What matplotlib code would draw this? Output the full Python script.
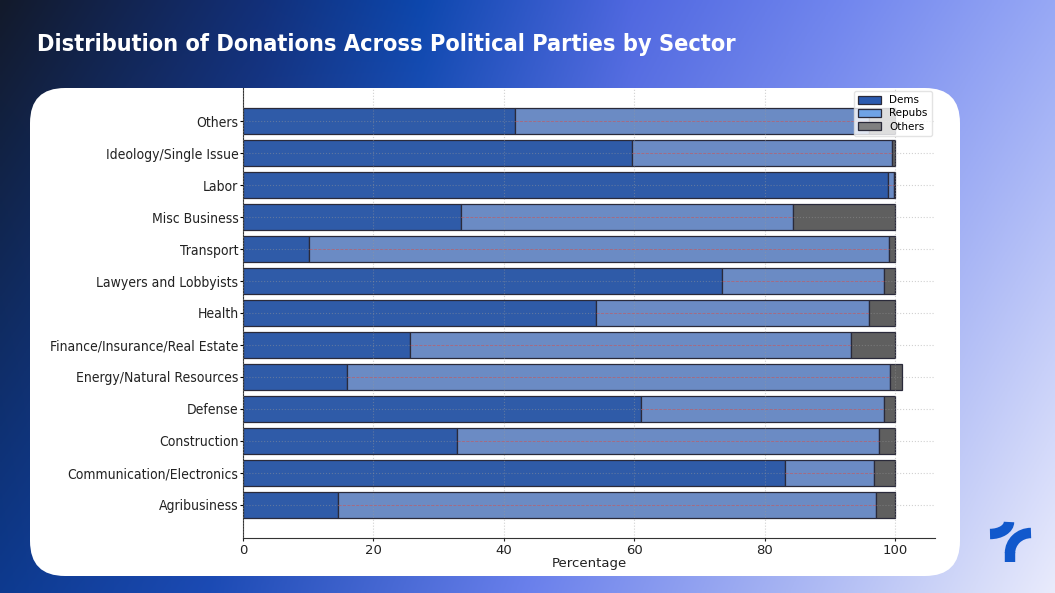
import numpy as np
import matplotlib
matplotlib.use("Agg")
import matplotlib.pyplot as plt
from matplotlib.patches import FancyBboxPatch, Arc
from matplotlib.colors import to_rgb

# ---------------- data ----------------
sectors = ["Agribusiness", "Communication/Electronics", "Construction", "Defense",
           "Energy/Natural Resources", "Finance/Insurance/Real Estate", "Health",
           "Lawyers and Lobbyists", "Transport", "Misc Business", "Labor",
           "Ideology/Single Issue", "Others"]
dems = [14.5, 83.2, 32.8, 61.0, 15.9, 25.6, 54.1, 73.5, 10.1, 33.5, 98.9, 59.7, 41.7]
repubs = [82.6, 13.6, 64.7, 37.3, 83.3, 67.7, 41.9, 24.8, 89.0, 50.9, 0.9, 39.8, 54.3]
others = [2.9, 3.2, 2.5, 1.7, 1.9, 6.7, 4.0, 1.7, 0.9, 15.6, 0.2, 0.5, 4.0]
x_ticks = [0, 20, 40, 60, 80, 100]

title = "Distribution of Donations Across Political Parties by Sector"

W, H = 1055, 593
fig = plt.figure(figsize=(W / 100, H / 100), dpi=100)

# ---------------- background gradient ----------------
bg = fig.add_axes([0, 0, 1, 1], zorder=-10)
bg.set_axis_off()
top_stops = [(0.0, "#131a2b"), (0.25, "#12307a"), (0.4, "#0d47ad"), (0.6, "#5068e0"),
             (0.8, "#7186ee"), (1.0, "#97a8f5")]
bot_stops = [(0.0, "#0d3a8f"), (0.2, "#1c4bb5"), (0.5, "#6a80ec"), (0.75, "#a8b5f3"),
             (0.9, "#cfd6f8"), (1.0, "#e9ebfc")]
xs = np.linspace(0, 1, 400)

def row(stops):
    pos = [s[0] for s in stops]
    cols = np.array([to_rgb(s[1]) for s in stops])
    return np.stack([np.interp(xs, pos, cols[:, k]) for k in range(3)], axis=1)

top = row(top_stops)
bot = row(bot_stops)
ys = np.linspace(0, 1, 200)[:, None, None]
img = top[None] * (1 - ys) + bot[None] * ys
bg.imshow(img, extent=[0, W, H, 0], aspect="auto")
bg.set_xlim(0, W)
bg.set_ylim(H, 0)

# white panel
panel = FancyBboxPatch((30 + 35, 88 + 35), 930 - 70, 488 - 70,
                       boxstyle="round,pad=35", fc="white", ec="none")
bg.add_patch(panel)

# logo
logo_c = "#1158cc"
bg.add_patch(Arc((990, 522), 38, 24, theta1=0, theta2=90, lw=7.5, color=logo_c,
                 capstyle="butt"))
bg.add_patch(Arc((1031, 553), 42, 40, theta1=180, theta2=270, lw=7.5, color=logo_c,
                 capstyle="butt"))
bg.plot([1010, 1010], [552, 562], color=logo_c, lw=7.5, solid_capstyle="butt")

# title
fig.text(37 / W, 1 - 44 / H, title, color="white", fontsize=16.8, fontweight="bold",
         family="DejaVu Sans", fontstretch="condensed", ha="left", va="center")

# ---------------- chart ----------------
ax = fig.add_axes([243 / W, 1 - 538 / H, (935 - 243) / W, (538 - 88) / H])
ax.set_facecolor("none")
y = np.arange(len(sectors))
dem_c, rep_c, oth_c = "#2f5ba8", "#6b8bc4", "#5f5f5f"
edge = "#2a2a3a"
ax.barh(y, dems, height=0.8, color=dem_c, edgecolor=edge, lw=0.9, label="Dems")
ax.barh(y, repubs, left=dems, height=0.8, color=rep_c, edgecolor=edge, lw=0.9, label="Repubs")
left_o = [d + r for d, r in zip(dems, repubs)]
ax.barh(y, others, left=left_o, height=0.8, color=oth_c, edgecolor=edge, lw=0.9, label="Others")
ax.hlines(y, dems, left_o, colors="#e04040", linestyles="--", lw=0.6, alpha=0.5, zorder=3)

ax.set_yticks(y)
ax.set_yticklabels(sectors, fontsize=10, color="#222222", family="DejaVu Sans",
                   fontstretch="condensed")
ax.tick_params(axis="y", length=2.5, pad=0.8)
ax.set_xticks(x_ticks)
ax.tick_params(axis="x", labelsize=9.5, colors="#222222", length=2.5, pad=1.5)
ax.set_xlabel("Percentage", fontsize=9.5, color="#222222", labelpad=0)
ax.set_axisbelow(False)
ax.grid(True, linestyle=":", color="#999999", lw=0.8, alpha=0.45)
for s in ["top", "right"]:
    ax.spines[s].set_visible(False)
for s in ["left", "bottom"]:
    ax.spines[s].set_color("#333333")

leg = ax.legend(loc="upper right", fontsize=7.5, framealpha=0.8, borderaxespad=0.3,
                handlelength=2.2, handleheight=0.8, labelspacing=0.3, edgecolor="#dddddd")
for h, c in zip(leg.legend_handles, ["#2b5bb0", "#6fa3e6", "#808080"]):
    h.set_facecolor(c)

fig.savefig("out.png", dpi=100)
